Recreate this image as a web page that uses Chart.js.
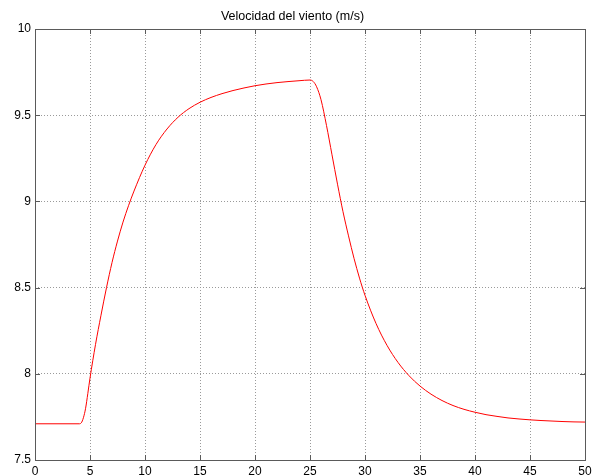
<!DOCTYPE html>
<html>
<head>
<meta charset="utf-8">
<script src="https://cdn.jsdelivr.net/npm/chart.js@4/dist/chart.umd.min.js"></script>
<style>
    body { margin: 0; background: #fff; }
    #wrap { width: 607px; height: 476px; }
</style>
</head>
<body>
<div id="wrap"><canvas id="windChart" width="607" height="476"></canvas></div>
<script>
// Time (s) and wind speed (m/s)
const timeValues = [
    0, 1, 2, 3, 4, 4.2, 4.4, 4.6, 4.8, 5, 5.5, 6, 6.5, 7, 7.5, 8, 8.5, 9, 10,
    11, 12, 13, 14, 15, 16, 17, 18, 19, 20, 21, 22, 23, 24, 25,
    25.3, 25.6, 26, 26.5, 27, 27.5, 28, 28.5, 29, 29.5, 30, 31, 32, 33, 34,
    35, 36, 37, 38, 39, 40, 41, 42, 43, 44, 45, 46, 47, 48, 49, 50
];
const windSpeed = [
    7.71, 7.71, 7.71, 7.71, 7.71, 7.715, 7.745, 7.80, 7.885, 7.975, 8.17, 8.34, 8.50, 8.645, 8.77, 8.88, 8.975, 9.06, 9.21,
    9.33, 9.42, 9.488, 9.538, 9.575, 9.603, 9.625, 9.643, 9.658, 9.671, 9.681, 9.689, 9.695, 9.70, 9.704,
    9.695, 9.665, 9.59, 9.44, 9.27, 9.10, 8.94, 8.80, 8.67, 8.555, 8.455, 8.292, 8.165, 8.066, 7.989,
    7.929, 7.882, 7.845, 7.816, 7.794, 7.777, 7.763, 7.753, 7.744, 7.738, 7.733, 7.729, 7.726, 7.723, 7.721, 7.72
];
const xTicks = [0, 5, 10, 15, 20, 25, 30, 35, 40, 45, 50];
const yTicks = [7.5, 8, 8.5, 9, 9.5, 10];
const chartTitle = 'Velocidad del viento (m/s)';

const fontFamily = "'Liberation Sans', Arial, sans-serif";
const axisColor = '#5a5a5a';

// box around the axes with short inward tick marks on all four sides
const boxPlugin = {
    id: 'axesBox',
    afterDatasetsDraw(chart) {
        const { ctx, chartArea: a, scales } = chart;
        const len = 5;
        ctx.save();
        ctx.strokeStyle = axisColor;
        ctx.lineWidth = 1;
        ctx.beginPath();
        xTicks.forEach(v => {
            const x = Math.round(scales.x.getPixelForValue(v)) + 0.5;
            ctx.moveTo(x, a.bottom); ctx.lineTo(x, a.bottom - len);
            ctx.moveTo(x, a.top); ctx.lineTo(x, a.top + len);
        });
        yTicks.forEach(v => {
            const y = Math.round(scales.y.getPixelForValue(v)) + 0.5;
            ctx.moveTo(a.left, y); ctx.lineTo(a.left + len, y);
            ctx.moveTo(a.right, y); ctx.lineTo(a.right - len, y);
        });
        ctx.stroke();
        ctx.strokeRect(Math.round(a.left) + 0.5, Math.round(a.top) + 0.5,
            Math.round(a.right - a.left), Math.round(a.bottom - a.top));
        ctx.restore();
    }
};

const gridStyle = {
    color: '#9a9a9a',
    lineWidth: 1,
    drawTicks: false
};

const plainNumber = value => String(Number(value));

new Chart(document.getElementById('windChart'), {
    type: 'line',
    data: {
        labels: timeValues,
        datasets: [{
            data: timeValues.map((t, i) => ({ x: t, y: windSpeed[i] })),
            borderColor: '#ff0000',
            borderWidth: 1,
            pointRadius: 0,
            fill: false,
            cubicInterpolationMode: 'monotone'
        }]
    },
    options: {
        responsive: false,
        animation: false,
        layout: { padding: { left: 0, right: 22, top: 0, bottom: 0 } },
        plugins: {
            legend: { display: false },
            tooltip: { enabled: false },
            title: {
                display: true,
                text: chartTitle,
                color: '#000',
                font: { family: fontFamily, size: 12.5, weight: 'normal', lineHeight: 1.2 },
                padding: { top: 9, bottom: 5 }
            }
        },
        scales: {
            x: {
                type: 'linear',
                min: 0,
                max: 50,
                afterFit(scale) { scale.height = 16; },
                afterBuildTicks(scale) { scale.ticks = xTicks.map(v => ({ value: v })); },
                grid: gridStyle,
                border: { display: false, dash: [1, 2] },
                ticks: {
                    color: '#000',
                    padding: 4,
                    maxRotation: 0,
                    callback: plainNumber,
                    font: { family: fontFamily, size: 12 }
                }
            },
            y: {
                min: 7.5,
                max: 10,
                afterFit(scale) { scale.width = 35; },
                afterBuildTicks(scale) { scale.ticks = yTicks.map(v => ({ value: v })); },
                grid: gridStyle,
                border: { display: false, dash: [1, 2] },
                ticks: {
                    color: '#000',
                    padding: 4,
                    callback: plainNumber,
                    font: { family: fontFamily, size: 12 }
                }
            }
        }
    },
    plugins: [boxPlugin]
});
</script>
</body>
</html>
